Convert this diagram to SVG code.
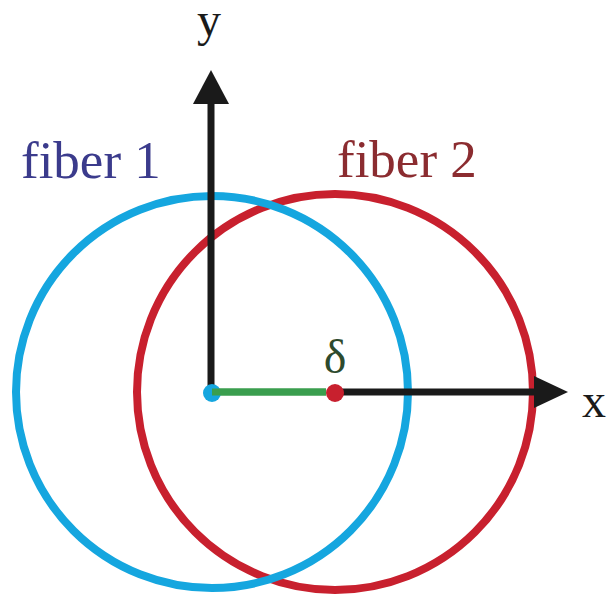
<svg xmlns="http://www.w3.org/2000/svg" width="611" height="599" viewBox="0 0 611 599">
<defs>
<style>
.lbl{font-family:"Liberation Serif","Times New Roman",serif;font-size:48px}
.fib{font-size:53px}
.axis{stroke:#1a1a1a;stroke-width:7;fill:none}
.head{fill:#1a1a1a}
</style>
</defs>
<rect width="611" height="599" fill="#fff"/>
<g id="fiber2">
<circle cx="335" cy="392" r="198" fill="none" stroke="#c8202e" stroke-width="8"/>
<text class="lbl fib" x="337" y="177" fill="#8b2c30">fiber 2</text>
</g>
<g id="fiber1">
<circle cx="212" cy="392" r="196" fill="none" stroke="#15a6df" stroke-width="8"/>
<text class="lbl fib" x="21" y="178" fill="#3b3b8c">fiber 1</text>
</g>
<g id="connectors">
<line class="axis" x1="211" y1="392" x2="211" y2="100"/>
<polygon class="head" points="211,70 193,104 229,104"/>
<line class="axis" x1="335" y1="392" x2="537" y2="392"/>
<polygon class="head" points="568,392 534,376 534,408"/>
<line x1="212" y1="392" x2="326" y2="392" stroke="#3a9e4e" stroke-width="7"/>
</g>
<g id="origin"><circle cx="212" cy="393" r="9" fill="#15a6df"/></g>
<g id="offset"><circle cx="335" cy="393" r="9" fill="#c8202e"/>
<line x1="212" y1="392" x2="326" y2="392" stroke="#3a9e4e" stroke-width="7"/>
<text class="lbl" x="335" y="373" fill="#2d4a2d" text-anchor="middle">δ</text></g>
<g id="ylabel"><text class="lbl" x="209" y="36" fill="#1a1a1a" text-anchor="middle">y</text></g>
<g id="xlabel"><text class="lbl" x="582" y="417" fill="#1a1a1a">x</text></g>
</svg>
